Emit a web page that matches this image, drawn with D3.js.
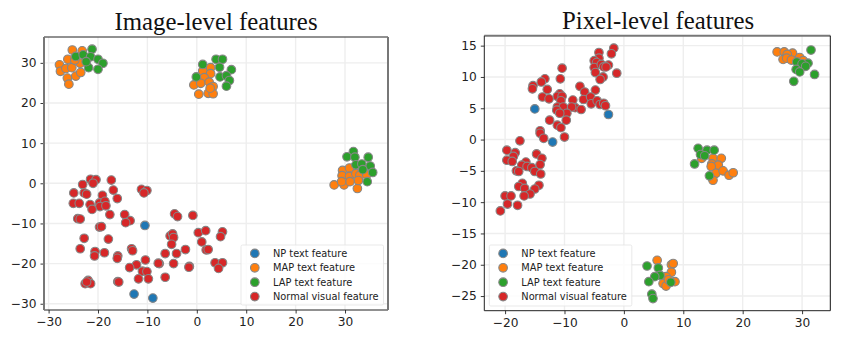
<!DOCTYPE html>
<html>
<head>
<meta charset="utf-8">
<script src="https://cdn.jsdelivr.net/npm/d3@7"></script>
<style>
  html, body { margin: 0; padding: 0; background: #fff; }
  svg { display: block; }
</style>
</head>
<body>
<div id="chart"></div>
<script>
var legendLabels = ["NP text feature", "MAP text feature", "LAP text feature", "Normal visual feature"];
var colors = ["#1f77b4", "#ff7f0e", "#2ca02c", "#d62728"];

// left panel, values as [x, y]
var imgNP = [[-10.5,-10.5],[-12.7,-27.6],[-8.9,-28.6]];
var imgMAP = [[-25.2,33.2],[-23.2,33],[-27.8,29.5],[-26.1,30.9],[-27.6,27.9],[-26.5,28.6],[-25.3,28.8],[-26.2,26.2],[-24.5,26.7],[-23.5,27.6],[-25.9,24.7],[-23.6,29.9],[-24.7,30.7],
  [1.2,28],[2.8,28.8],[2.8,27.3],[1.5,26.3],[-0.6,24.5],[0.8,24.9],[2.5,25.2],[3.3,24.1],[0.4,22.2],[2.3,22.4],[3.3,22.3],[2.7,23.7],
  [27.8,-0.4],[29.8,-0.4],[32.5,-1.3],[29.5,3.2],[30.9,3.8],[29.4,1.9],[30.9,1.7],[32.2,2.4],[33,2],[32.7,0.7],[31,0.4],[29.3,0.4],[34.4,2.1]];
var imgLAP = [[-21.2,33.4],[-24.5,31.6],[-23,32],[-21.5,31.5],[-20,30.9],[-19,29.9],[-21.9,28.8],[-20,28.4],[-22.4,30.3],
  [1.2,29.6],[3.9,30.9],[5.2,30.9],[4.6,28.9],[7,28.3],[-0.1,26.5],[4.7,26.5],[6,26.8],[6.6,25.6],[6,24.2],
  [31.7,7.9],[30.4,6.6],[32,6.5],[34.7,6.5],[32.2,4.6],[33.4,4.8],[35.1,4.3],[33.6,3.4],[35.6,2.7],[34.5,0.4]];
var imgNormal = [[-21.5,1],[-20.4,0.9],[-21,0],[-17.3,0.8],[-23.1,-0.3],[-16.9,-1.7],[-24.9,-2.4],[-22.8,-2.4],[-22.3,-2.7],[-19.1,-3],[-16.1,-3.8],
  [-25,-5],[-23.8,-5],[-21.6,-5.3],[-19.7,-4.9],[-18.6,-4.5],[-19.6,-5.8],[-18.4,-5.6],[-21.2,-6.5],[-17.6,-7.8],[-14.6,-7.8],[-24.1,-8.8],[-23.6,-8.9],
  [-13.5,-9.3],[-14.4,-9.8],[-19.7,-10.9],[-19.3,-10.8],[-22.8,-13.7],[-17.9,-13.9],[-23.6,-16.3],[-20.6,-17],[-20.7,-18.1],[-18.7,-17.3],[-16,-18.1],[-16.1,-18.7],
  [-13.2,-16.3],[-13,-16.8],[-10.4,-19.1],[-12.2,-20.3],[-13.6,-21],[-11,-21.9],[-10.1,-22],[-11.8,-23.8],[-9.8,-23.8],[-16,-24.5],[-15.8,-24.6],
  [-22,-24.2],[-22.6,-25],[-21.5,-25],[-22.3,-24.6],[-11.2,-1.5],[-10.1,-1.8],[-10.7,-2.4],
  [-4.5,-7.6],[-3.9,-8.3],[-0.8,-8],[-5.4,-13.1],[-4.9,-12.6],[-4.7,-13.5],[-5.1,-15.2],[-6.4,-17.5],[-4.1,-17.5],[-2.3,-16.5],[0.3,-12.3],[1.8,-11.8],[1,-14.6],[1.9,-16.6],[2.3,-16.5],
  [5.2,-12.1],[4.8,-13.3],[3.7,-19.8],[5.2,-19.8],[4.4,-21.2],[-7.6,-20],[-7.8,-19.9],[-4.7,-20],[-1.5,-20.7],[-1.6,-20.9],[-6.4,-23.4]];

// right panel
var pixNP = [[-15,4.9],[-2.6,4],[-12,-0.4]];
var pixMAP = [[25.8,14],[27,14],[28.4,13.8],[27.5,13.6],[26.8,12.8],[27.4,13],[28.2,12.7],[29.6,13.1],[30.2,12.6],
  [13.1,-3],[15,-3],[16.4,-3],[14.8,-3.9],[15.9,-4.1],[14.7,-4.3],[15.5,-5.4],[16.7,-5],[15,-6.5],[17.7,-5.7],[18.4,-5.3],
  [5.6,-19.3],[8,-20],[8.3,-19.8],[8,-21.2],[7.1,-21.9],[8.6,-22.7],[6.6,-23],[7.1,-23.4],[7.5,-22.4]];
var pixLAP = [[31.5,14.3],[29.1,12.4],[31,12.2],[30,12.1],[30.6,11.7],[29,11.2],[29.6,10.8],[32.1,10.4],[28.6,9.3],
  [12.5,-1.4],[14,-1.7],[15.2,-1.7],[12.9,-2.4],[13.6,-2.6],[11.9,-3.9],[14.4,-5.8],
  [3.9,-20.2],[5.8,-20.5],[6.1,-21.7],[5.2,-21.9],[4.2,-22.7],[7.9,-22.8],[4.7,-24.7],[4.9,-25.4]];
var pixNormal = [[-1.7,14.6],[-2.1,13.7],[-4.2,13.9],[-4.2,13],[-5,12.6],[-4.6,12.3],[-5,11.5],[-3.8,12],[-3.4,11.6],[-2.6,11.9],[-3,11.6],[-4.8,10.7],[-1.2,10.6],[-3.5,10],[-4,9.6],
  [-10.4,11.4],[-10.7,9.7],[-13.3,9.7],[-13.9,9.2],[-15.3,8.6],[-15.4,8.1],[-12.9,8],[-7.4,8.5],[-6.6,7.6],[-4.8,7.9],[-13.7,6.8],[-12.6,6.5],[-10.8,7.3],[-11.2,6.9],[-10.4,6.9],[-10.6,6.2],
  [-8.6,6.3],[-6.8,6.4],[-5.6,6.8],[-5.5,5.7],[-4.5,6.2],[-4,5.6],[-3.4,5.8],[-3.1,5.4],[-11.2,5.2],[-10.2,5.2],[-8.2,5.1],[-7.2,4.8],[-8.8,5.2],[-11.3,4.7],[-9.6,4.2],[-10.8,4.2],
  [-9.7,3.1],[-12.5,3.1],[-11.2,2.3],[-10.6,1.9],[-14.1,1.4],[-14.1,1],[-13.5,0.2],[-10,0.4],[-17.5,-0.2],[-19.7,-1.7],[-18.3,-2.1],
  [-18.6,-2.7],[-19.7,-3.3],[-18.8,-3.5],[-16.5,-3.6],[-14.7,-2.3],[-13.8,-3],[-14.1,-4],[-17.2,-4.1],[-16.3,-4.3],[-15.5,-4.5],[-15,-5.1],[-14,-5.5],[-18.1,-5],[-17.7,-5.1],
  [-17.1,-7],[-17.7,-7.5],[-16.7,-7.8],[-14.3,-7.3],[-15,-7.9],[-15.8,-8.7],[-16.8,-9],[-20,-9],[-19,-9],[-19.6,-10.3],[-17.9,-10.5],[-20.8,-11.4]];

var imgXTicks = [-30,-20,-10,0,10,20,30];
var imgYTicks = [-30,-20,-10,0,10,20,30];
var pixXTicks = [-20,-10,0,10,20,30];
var pixYTicks = [-25,-20,-15,-10,-5,0,5,10,15];

var svg = d3.select("#chart").append("svg").attr("width", 868).attr("height", 361);

function drawPanel(p) {
  var x = d3.scaleLinear().domain(p.xDomain).range([p.left, p.right]);
  var y = d3.scaleLinear().domain(p.yDomain).range([p.bottom, p.top]);
  var g = svg.append("g");

  // gridlines go under everything
  g.selectAll(".gx").data(p.xTicks).enter().append("line")
    .attr("x1", x).attr("x2", x).attr("y1", p.top).attr("y2", p.bottom)
    .style("stroke", "#eeeeee").style("stroke-width", 1.4);
  g.selectAll(".gy").data(p.yTicks).enter().append("line")
    .attr("y1", y).attr("y2", y).attr("x1", p.left).attr("x2", p.right)
    .style("stroke", "#eeeeee").style("stroke-width", 1.4);

  var xAxis = g.append("g").attr("transform", "translate(0," + p.bottom + ")")
    .call(d3.axisBottom(x).tickValues(p.xTicks).tickSize(3.5).tickPadding(4).tickFormat(d3.format("d")));
  var yAxis = g.append("g").attr("transform", "translate(" + p.left + ",0)")
    .call(d3.axisLeft(y).tickValues(p.yTicks).tickSize(3.5).tickPadding(4).tickFormat(d3.format("d")));
  [xAxis, yAxis].forEach(function (a) {
    a.select(".domain").remove();
    a.selectAll("line").style("stroke", "#222").style("stroke-width", 0.9);
    a.selectAll("text").style("font-family", "DejaVu Sans").style("font-size", "12.2px").style("fill", "#222");
  });

  p.series.forEach(function (s, i) {
    g.append("g").selectAll("circle").data(s).enter().append("circle")
      .attr("cx", function (d) { return x(d[0]); })
      .attr("cy", function (d) { return y(d[1]); })
      .attr("r", 4.3)
      .style("fill", colors[i])
      .style("stroke", "#868686")
      .style("stroke-width", 1.1);
  });

  // the spines are not all the same weight in the reference
  p.spines.forEach(function (s) {
    g.append("line")
      .attr("x1", s.side == "right" ? p.right : p.left)
      .attr("x2", s.side == "left" ? p.left : p.right)
      .attr("y1", s.side == "bottom" ? p.bottom : p.top)
      .attr("y2", s.side == "top" ? p.top : p.bottom)
      .style("stroke", s.color).style("stroke-width", s.w);
  });

  g.append("rect")
    .attr("x", p.legend.x).attr("y", p.legend.y).attr("width", p.legend.w).attr("height", p.legend.h).attr("rx", 1.5)
    .style("fill", "#fff").style("fill-opacity", 0.8).style("stroke", "#e3e3e3").style("stroke-width", 0.8);
  legendLabels.forEach(function (label, i) {
    var ly = p.legend.y + 8.4 + i * 14.4;
    g.append("circle").attr("cx", p.legend.x + 13.8).attr("cy", ly).attr("r", 4.3)
      .style("fill", colors[i]).style("stroke", "#868686").style("stroke-width", 1.1);
    g.append("text").attr("x", p.legend.x + 32).attr("y", ly + 3.4).text(label)
      .style("font-family", "DejaVu Sans").style("font-size", "9.8px").style("fill", "#222");
  });

  svg.append("text").attr("x", p.titleX).attr("y", p.titleY).attr("text-anchor", "middle").text(p.title)
    .style("font-family", "Liberation Serif").style("font-size", "24.8px").style("fill", "#111");
}

drawPanel({
  title: "Image-level features", titleX: 216, titleY: 30,
  left: 44, right: 388, top: 37, bottom: 310,
  xDomain: [-30.93, 38.7], yDomain: [-31.56, 36.44],
  xTicks: imgXTicks, yTicks: imgYTicks,
  series: [imgNP, imgMAP, imgLAP, imgNormal],
  legend: { x: 241, y: 245, w: 142.5, h: 60 },
  spines: [
    { side: "top", color: "#222", w: 1 },
    { side: "bottom", color: "#222", w: 1 },
    { side: "left", color: "#777", w: 2 },
    { side: "right", color: "#777", w: 2 }
  ]
});

drawPanel({
  title: "Pixel-level features", titleX: 658, titleY: 29,
  left: 484.3, right: 830.3, top: 35.7, bottom: 310.7,
  xDomain: [-23.5, 34.75], yDomain: [-27.34, 16.59],
  xTicks: pixXTicks, yTicks: pixYTicks,
  series: [pixNP, pixMAP, pixLAP, pixNormal],
  legend: { x: 489.3, y: 245, w: 142.5, h: 61 },
  spines: [
    { side: "top", color: "#777", w: 2 },
    { side: "bottom", color: "#222", w: 1 },
    { side: "left", color: "#222", w: 1 },
    { side: "right", color: "#111", w: 1 }
  ]
});
</script>
</body>
</html>
